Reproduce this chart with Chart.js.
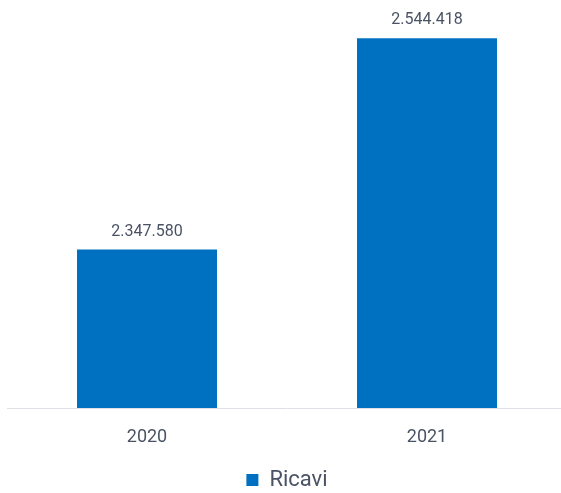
<!DOCTYPE html>
<html lang="it">
<head>
<meta charset="utf-8">
<title>Ricavi</title>
<script src="https://cdn.jsdelivr.net/npm/chart.js@4.4.1/dist/chart.umd.min.js"></script>
<style>
    html, body { margin: 0; padding: 0; background: #fff; overflow: hidden; }
    #wrap { position: relative; width: 567px; height: 501px; }
</style>
</head>
<body>
<div id="wrap"><canvas id="ricaviChart"></canvas></div>
<script>
// Dati
var anni = ['2020', '2021'];
var ricavi = [2347580, 2544418];
var serieLabel = 'Ricavi';

var coloreBarra = '#0070c0';
var coloreTesto = '#4a5364';

// Formatta numeri con il punto come separatore delle migliaia
function formatNumero(n) {
    return String(Math.round(n)).replace(/\B(?=(\d{3})+(?!\d))/g, '.');
}

// Etichette dei valori sopra le barre
var etichetteValori = {
    id: 'etichetteValori',
    afterDatasetsDraw: function(chart) {
        var ctx = chart.ctx;
        ctx.save();
        ctx.font = '16px Roboto';
        ctx.fillStyle = coloreTesto;
        ctx.textAlign = 'center';
        ctx.textBaseline = 'alphabetic';
        chart.data.datasets.forEach(function(ds, i) {
            chart.getDatasetMeta(i).data.forEach(function(bar, j) {
                ctx.fillText(formatNumero(ds.data[j]), bar.x, bar.y - 14);
            });
        });
        ctx.restore();
    }
};

var ctx = document.getElementById('ricaviChart');
new Chart(ctx, {
    type: 'bar',
    data: {
        labels: anni,
        datasets: [{
            label: serieLabel,
            data: ricavi,
            backgroundColor: coloreBarra,
            borderWidth: 0,
            barPercentage: 0.5,
            categoryPercentage: 1
        }]
    },
    options: {
        responsive: true,
        maintainAspectRatio: false,
        animation: false,
        layout: {
            padding: { left: 7, right: 0, top: 0, bottom: 0 }
        },
        scales: {
            x: {
                grid: { display: false, drawTicks: false },
                border: { display: true, color: '#dde1e7', width: 1 },
                ticks: {
                    color: coloreTesto,
                    font: { family: 'Roboto', size: 18 },
                    padding: 19
                },
                // spazio extra tra etichette dell'asse e legenda
                afterFit: function(scale) {
                    scale.height = 57;
                }
            },
            y: {
                display: false,
                min: 2200000,
                max: 2580000
            }
        },
        plugins: {
            legend: {
                position: 'bottom',
                labels: {
                    color: coloreTesto,
                    font: { family: 'Roboto', size: 22 },
                    boxWidth: 12,
                    boxHeight: 12,
                    padding: 4
                }
            },
            tooltip: { enabled: false }
        }
    },
    plugins: [etichetteValori]
});
</script>
</body>
</html>
